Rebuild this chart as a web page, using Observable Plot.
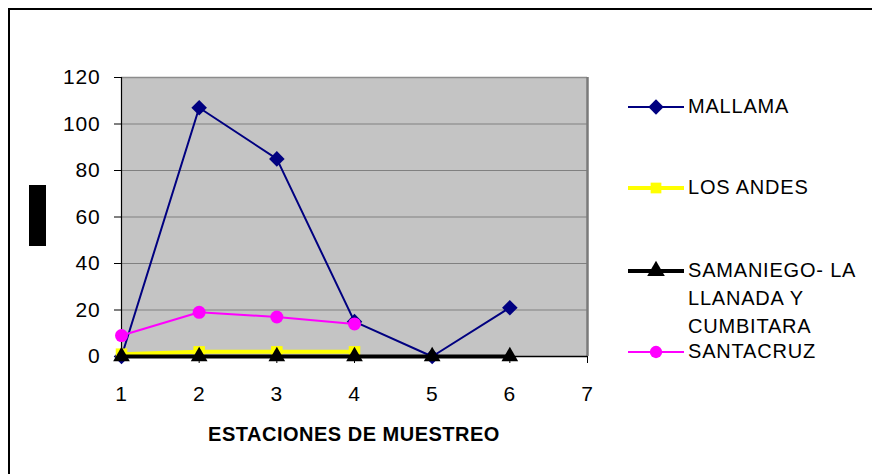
<!DOCTYPE html>
<html>
<head>
<meta charset="utf-8">
<script src="https://cdn.jsdelivr.net/npm/d3@7"></script>
<script src="https://cdn.jsdelivr.net/npm/@observablehq/plot@0.6"></script>
<style>
  html, body { margin: 0; padding: 0; background: #fff; }
  #wrap { position: relative; width: 872px; height: 474px; overflow: hidden; font-family: "Liberation Sans", Arial, sans-serif; }
  #wrap svg.plot { position: absolute; left: 0; top: 0; }
  #wrap svg.plot [aria-label="x-axis tick label"] text, #wrap svg.plot [aria-label="y-axis tick label"] text { letter-spacing: 0.8px; }
  .frame { position: absolute; left: 8px; top: 8px; width: 880px; height: 480px; border-left: 2px solid #000; border-top: 2px solid #000; }
  .ylab { position: absolute; left: 29px; top: 185px; width: 17px; height: 61px; background: #000; }
  .xtitle { position: absolute; left: 121px; width: 466px; top: 423px; text-align: center; font-weight: bold; font-size: 20px; color: #000; letter-spacing: 0.5px; }
  .legend { position: absolute; left: 626px; top: 0; }
  .item { position: absolute; left: 0; white-space: nowrap; }
  .item svg { position: absolute; left: 0; top: 0; }
  .item .t { position: absolute; left: 62px; font-size: 20px; line-height: 27px; color: #000; letter-spacing: 0.8px; }
</style>
</head>
<body>
<div id="wrap"></div>
<script>
const estaciones = [1, 2, 3, 4, 5, 6];
const mallama   = [0, 107, 85, 15, 0, 21];
const losAndes  = [1, 2, 2, 2, null, null];
const samaniego = [0, 0, 0, 0, 0, 0];
const santacruz = [9, 19, 17, 14, null, null];
const yTicks = [0, 20, 40, 60, 80, 100, 120];
const xTicks = [1, 2, 3, 4, 5, 6, 7];
const seriesNames = ["MALLAMA", "LOS ANDES", "SAMANIEGO- LA LLANADA Y CUMBITARA", "SANTACRUZ"];

const toRows = (vals, name) => estaciones.map((x, i) => ({x, y: vals[i], serie: name})).filter(d => d.y != null);
const rMallama = toRows(mallama, seriesNames[0]);
const rAndes = toRows(losAndes, seriesNames[1]);
const rSam = toRows(samaniego, seriesNames[2]);
const rSanta = toRows(santacruz, seriesNames[3]);

const chart = Plot.plot({
  width: 872,
  height: 474,
  marginLeft: 121,
  marginRight: 285,
  marginTop: 77,
  marginBottom: 118,
  style: {fontFamily: "'Liberation Sans', Arial, sans-serif", fontSize: "21px", background: "transparent", overflow: "visible"},
  x: {domain: [1, 7], ticks: xTicks, label: null},
  y: {domain: [0, 120], ticks: yTicks, label: null},
  marks: [
    Plot.frame({fill: "#c4c4c4", stroke: null}),
    Plot.gridY(yTicks.filter(t => t > 0), {stroke: "#808080", strokeOpacity: 1, strokeWidth: 1}),
    Plot.ruleY([120], {stroke: "#8c8c8c", strokeWidth: 1.5}),
    Plot.ruleX([7], {y1: 0, y2: 120, stroke: "#7a7a7a", strokeWidth: 2.5}),
    Plot.axisY({ticks: yTicks, tickSize: 7, tickPadding: 14, fontSize: 21, tickFormat: d => String(d), color: "#000"}),
    Plot.ruleX([1], {stroke: "#000", strokeWidth: 1.2}),
    Plot.axisX({ticks: xTicks, tickSize: 7, tickPadding: 23, fontSize: 21, tickFormat: d => String(d), color: "#000"}),
    Plot.ruleY([0], {stroke: "#000", strokeWidth: 1.5}),
    // MALLAMA
    Plot.line(rMallama, {x: "x", y: "y", stroke: "#000080", strokeWidth: 2}),
    Plot.dot(rMallama, {x: "x", y: "y", symbol: "diamond2", r: 7, fill: "#000080", stroke: null}),
    // LOS ANDES
    Plot.line(rAndes, {x: "x", y: "y", stroke: "#ffff00", strokeWidth: 4}),
    Plot.dot(rAndes, {x: "x", y: "y", symbol: "square", r: 6.5, fill: "#ffff00", stroke: null}),
    // SAMANIEGO
    Plot.line(rSam, {x: "x", y: "y", stroke: "#000000", strokeWidth: 4}),
    Plot.dot(rSam, {x: "x", y: "y", symbol: "triangle", r: 6.2, fill: "#000000", stroke: null}),
    // SANTACRUZ
    Plot.line(rSanta, {x: "x", y: "y", stroke: "#ff00ff", strokeWidth: 2}),
    Plot.dot(rSanta, {x: "x", y: "y", symbol: "circle", r: 6.5, fill: "#ff00ff", stroke: null})
  ]
});
chart.classList.add("plot");

const wrap = document.getElementById("wrap");
wrap.appendChild(chart);

const frame = document.createElement("div"); frame.className = "frame"; wrap.appendChild(frame);
const ylab = document.createElement("div"); ylab.className = "ylab"; wrap.appendChild(ylab);
const xt = document.createElement("div"); xt.className = "xtitle"; xt.textContent = "ESTACIONES DE MUESTREO"; wrap.appendChild(xt);

// legend
const legendDefs = [
  {name: "MALLAMA", lines: ["MALLAMA"], color: "#000080", w: 2, sym: "diamond", top: 93},
  {name: "LOS ANDES", lines: ["LOS ANDES"], color: "#ffff00", w: 4, sym: "square", top: 174},
  {name: seriesNames[2], lines: ["SAMANIEGO- LA", "LLANADA Y", "CUMBITARA"], color: "#000000", w: 4, sym: "triangle", top: 257},
  {name: "SANTACRUZ", lines: ["SANTACRUZ"], color: "#ff00ff", w: 2, sym: "circle", top: 338}
];
const leg = document.createElement("div"); leg.className = "legend"; wrap.appendChild(leg);
const NS = "http://www.w3.org/2000/svg";
legendDefs.forEach(d => {
  const it = document.createElement("div"); it.className = "item"; it.style.top = d.top + "px";
  const s = document.createElementNS(NS, "svg"); s.setAttribute("width", 60); s.setAttribute("height", 27);
  const ln = document.createElementNS(NS, "line");
  ln.setAttribute("x1", 2); ln.setAttribute("x2", 58); ln.setAttribute("y1", 14); ln.setAttribute("y2", 14);
  ln.setAttribute("stroke", d.color); ln.setAttribute("stroke-width", d.w);
  s.appendChild(ln);
  const p = document.createElementNS(NS, "path");
  const symMap = {diamond: d3.symbolDiamond2, square: d3.symbolSquare, triangle: d3.symbolTriangle, circle: d3.symbolCircle};
  const sizes = {diamond: 150, square: 115, triangle: 135, circle: 120};
  p.setAttribute("d", d3.symbol(symMap[d.sym], sizes[d.sym])());
  p.setAttribute("transform", "translate(30,14)");
  p.setAttribute("fill", d.color);
  s.appendChild(p);
  it.appendChild(s);
  d.lines.forEach((t, i) => {
    const tx = document.createElement("div"); tx.className = "t"; tx.textContent = t; tx.style.top = (i * 28) + "px";
    it.appendChild(tx);
  });
  leg.appendChild(it);
});
</script>
</body>
</html>
